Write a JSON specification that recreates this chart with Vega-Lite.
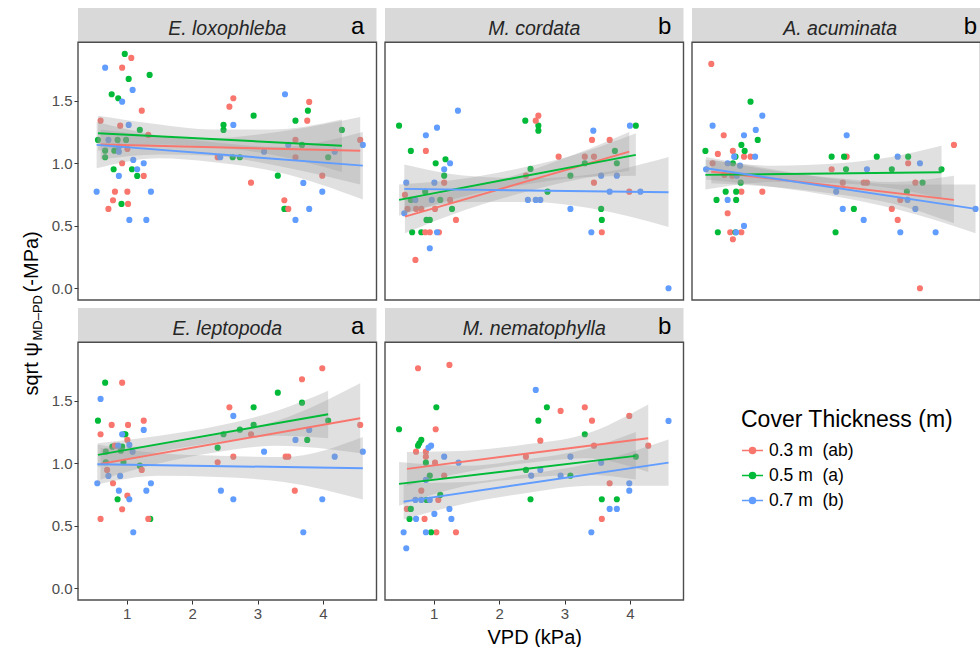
{
  "$schema": "https://vega.github.io/schema/vega-lite/v6.json",
  "padding": {"left": 20, "top": 8, "right": 0, "bottom": 0},
  "columns": 3,
  "spacing": {"row": 8, "column": 8},
  "bounds": "flush",
  "align": "all",
  "datasets": {
    "strips": [
      {"sp": "E. loxophleba", "tag": "a"},
      {"sp": "M. cordata", "tag": "b"},
      {"sp": "A. acuminata", "tag": "b"},
      {"sp": "E. leptopoda", "tag": "a"},
      {"sp": "M. nematophylla", "tag": "b"}
    ],
    "pts": [
      {"sp":"E. loxophleba","cov":"0.5","vpd":0.97,"psi":1.875},{"sp":"E. loxophleba","cov":"0.5","vpd":1.03,"psi":1.675},{"sp":"E. loxophleba","cov":"0.5","vpd":1.35,"psi":1.707},{"sp":"E. loxophleba","cov":"0.5","vpd":0.77,"psi":1.552},{"sp":"E. loxophleba","cov":"0.5","vpd":0.87,"psi":1.52},{"sp":"E. loxophleba","cov":"0.5","vpd":1.2,"psi":1.267},{"sp":"E. loxophleba","cov":"0.5","vpd":0.56,"psi":1.187},{"sp":"E. loxophleba","cov":"0.5","vpd":0.67,"psi":1.101},{"sp":"E. loxophleba","cov":"0.5","vpd":0.67,"psi":1.048},{"sp":"E. loxophleba","cov":"0.5","vpd":0.81,"psi":1.101},{"sp":"E. loxophleba","cov":"0.5","vpd":0.8,"psi":0.952},{"sp":"E. loxophleba","cov":"0.5","vpd":0.92,"psi":0.675},{"sp":"E. loxophleba","cov":"0.5","vpd":1.08,"psi":0.952},{"sp":"E. loxophleba","cov":"0.5","vpd":1.16,"psi":0.899},{"sp":"E. loxophleba","cov":"0.5","vpd":0.86,"psi":1.187},{"sp":"E. loxophleba","cov":"0.5","vpd":0.99,"psi":1.187},{"sp":"E. loxophleba","cov":"0.5","vpd":2.48,"psi":1.307},{"sp":"E. loxophleba","cov":"0.5","vpd":2.48,"psi":1.267},{"sp":"E. loxophleba","cov":"0.5","vpd":2.62,"psi":1.048},{"sp":"E. loxophleba","cov":"0.5","vpd":2.73,"psi":1.048},{"sp":"E. loxophleba","cov":"0.5","vpd":2.94,"psi":1.381},{"sp":"E. loxophleba","cov":"0.5","vpd":3.58,"psi":1.341},{"sp":"E. loxophleba","cov":"0.5","vpd":3.77,"psi":1.421},{"sp":"E. loxophleba","cov":"0.5","vpd":3.68,"psi":1.147},{"sp":"E. loxophleba","cov":"0.5","vpd":3.31,"psi":0.901},{"sp":"E. loxophleba","cov":"0.5","vpd":3.41,"psi":0.635},{"sp":"E. loxophleba","cov":"0.5","vpd":3.43,"psi":0.635},{"sp":"E. loxophleba","cov":"0.5","vpd":4.08,"psi":1.048},{"sp":"E. loxophleba","cov":"0.5","vpd":4.29,"psi":1.267},
      {"sp":"E. loxophleba","cov":"0.3","vpd":1.07,"psi":1.843},{"sp":"E. loxophleba","cov":"0.3","vpd":0.93,"psi":1.765},{"sp":"E. loxophleba","cov":"0.3","vpd":1.23,"psi":1.421},{"sp":"E. loxophleba","cov":"0.3","vpd":0.6,"psi":1.341},{"sp":"E. loxophleba","cov":"0.3","vpd":0.9,"psi":1.301},{"sp":"E. loxophleba","cov":"0.3","vpd":1.33,"psi":1.227},{"sp":"E. loxophleba","cov":"0.3","vpd":0.93,"psi":1.0},{"sp":"E. loxophleba","cov":"0.3","vpd":1.26,"psi":0.899},{"sp":"E. loxophleba","cov":"0.3","vpd":0.82,"psi":0.773},{"sp":"E. loxophleba","cov":"0.3","vpd":1.01,"psi":0.773},{"sp":"E. loxophleba","cov":"0.3","vpd":0.79,"psi":0.704},{"sp":"E. loxophleba","cov":"0.3","vpd":0.72,"psi":0.635},{"sp":"E. loxophleba","cov":"0.3","vpd":1.02,"psi":0.675},{"sp":"E. loxophleba","cov":"0.3","vpd":2.63,"psi":1.52},{"sp":"E. loxophleba","cov":"0.3","vpd":2.57,"psi":1.453},{"sp":"E. loxophleba","cov":"0.3","vpd":2.39,"psi":1.048},{"sp":"E. loxophleba","cov":"0.3","vpd":2.9,"psi":0.845},{"sp":"E. loxophleba","cov":"0.3","vpd":3.79,"psi":1.491},{"sp":"E. loxophleba","cov":"0.3","vpd":3.76,"psi":1.341},{"sp":"E. loxophleba","cov":"0.3","vpd":3.58,"psi":1.187},{"sp":"E. loxophleba","cov":"0.3","vpd":3.58,"psi":1.048},{"sp":"E. loxophleba","cov":"0.3","vpd":3.99,"psi":0.901},{"sp":"E. loxophleba","cov":"0.3","vpd":3.41,"psi":0.704},{"sp":"E. loxophleba","cov":"0.3","vpd":3.47,"psi":0.635},{"sp":"E. loxophleba","cov":"0.3","vpd":4.57,"psi":1.187},{"sp":"E. loxophleba","cov":"0.3","vpd":1.01,"psi":1.115},
      {"sp":"E. loxophleba","cov":"0.7","vpd":0.67,"psi":1.765},{"sp":"E. loxophleba","cov":"0.7","vpd":1.09,"psi":1.587},{"sp":"E. loxophleba","cov":"0.7","vpd":0.93,"psi":1.493},{"sp":"E. loxophleba","cov":"0.7","vpd":1.03,"psi":1.307},{"sp":"E. loxophleba","cov":"0.7","vpd":0.72,"psi":1.187},{"sp":"E. loxophleba","cov":"0.7","vpd":0.88,"psi":1.133},{"sp":"E. loxophleba","cov":"0.7","vpd":0.88,"psi":1.093},{"sp":"E. loxophleba","cov":"0.7","vpd":1.1,"psi":1.027},{"sp":"E. loxophleba","cov":"0.7","vpd":1.26,"psi":1.0},{"sp":"E. loxophleba","cov":"0.7","vpd":1.16,"psi":0.952},{"sp":"E. loxophleba","cov":"0.7","vpd":0.88,"psi":0.899},{"sp":"E. loxophleba","cov":"0.7","vpd":0.54,"psi":0.773},{"sp":"E. loxophleba","cov":"0.7","vpd":1.37,"psi":0.773},{"sp":"E. loxophleba","cov":"0.7","vpd":1.04,"psi":0.547},{"sp":"E. loxophleba","cov":"0.7","vpd":1.3,"psi":0.547},{"sp":"E. loxophleba","cov":"0.7","vpd":2.63,"psi":1.307},{"sp":"E. loxophleba","cov":"0.7","vpd":2.43,"psi":1.048},{"sp":"E. loxophleba","cov":"0.7","vpd":3.1,"psi":1.093},{"sp":"E. loxophleba","cov":"0.7","vpd":3.42,"psi":1.552},{"sp":"E. loxophleba","cov":"0.7","vpd":3.47,"psi":1.147},{"sp":"E. loxophleba","cov":"0.7","vpd":3.7,"psi":0.843},{"sp":"E. loxophleba","cov":"0.7","vpd":3.99,"psi":0.773},{"sp":"E. loxophleba","cov":"0.7","vpd":3.79,"psi":0.635},{"sp":"E. loxophleba","cov":"0.7","vpd":3.58,"psi":0.547},{"sp":"E. loxophleba","cov":"0.7","vpd":4.18,"psi":1.093},{"sp":"E. loxophleba","cov":"0.7","vpd":4.61,"psi":1.147},

      {"sp":"M. cordata","cov":"0.5","vpd":0.47,"psi":1.301},{"sp":"M. cordata","cov":"0.5","vpd":0.65,"psi":1.099},{"sp":"M. cordata","cov":"0.5","vpd":1.03,"psi":1.0},{"sp":"M. cordata","cov":"0.5","vpd":1.18,"psi":1.032},{"sp":"M. cordata","cov":"0.5","vpd":1.16,"psi":0.901},{"sp":"M. cordata","cov":"0.5","vpd":0.87,"psi":0.773},{"sp":"M. cordata","cov":"0.5","vpd":1.1,"psi":0.707},{"sp":"M. cordata","cov":"0.5","vpd":1.28,"psi":0.635},{"sp":"M. cordata","cov":"0.5","vpd":0.89,"psi":0.547},{"sp":"M. cordata","cov":"0.5","vpd":0.94,"psi":0.547},{"sp":"M. cordata","cov":"0.5","vpd":0.67,"psi":0.448},{"sp":"M. cordata","cov":"0.5","vpd":0.81,"psi":0.448},{"sp":"M. cordata","cov":"0.5","vpd":2.4,"psi":1.341},{"sp":"M. cordata","cov":"0.5","vpd":2.6,"psi":1.301},{"sp":"M. cordata","cov":"0.5","vpd":2.6,"psi":1.261},{"sp":"M. cordata","cov":"0.5","vpd":2.48,"psi":0.955},{"sp":"M. cordata","cov":"0.5","vpd":2.74,"psi":0.773},{"sp":"M. cordata","cov":"0.5","vpd":3.09,"psi":0.901},{"sp":"M. cordata","cov":"0.5","vpd":3.31,"psi":1.0},{"sp":"M. cordata","cov":"0.5","vpd":3.77,"psi":1.099},{"sp":"M. cordata","cov":"0.5","vpd":3.8,"psi":1.0},{"sp":"M. cordata","cov":"0.5","vpd":3.56,"psi":0.635},{"sp":"M. cordata","cov":"0.5","vpd":3.57,"psi":0.547},{"sp":"M. cordata","cov":"0.5","vpd":4.09,"psi":1.301},{"sp":"M. cordata","cov":"0.5","vpd":0.65,"psi":0.707},
      {"sp":"M. cordata","cov":"0.3","vpd":0.88,"psi":1.099},{"sp":"M. cordata","cov":"0.3","vpd":2.6,"psi":1.381},{"sp":"M. cordata","cov":"0.3","vpd":2.56,"psi":1.341},{"sp":"M. cordata","cov":"0.3","vpd":0.56,"psi":0.747},{"sp":"M. cordata","cov":"0.3","vpd":0.6,"psi":0.635},{"sp":"M. cordata","cov":"0.3","vpd":0.73,"psi":0.635},{"sp":"M. cordata","cov":"0.3","vpd":0.81,"psi":0.635},{"sp":"M. cordata","cov":"0.3","vpd":1.02,"psi":0.635},{"sp":"M. cordata","cov":"0.3","vpd":1.16,"psi":0.845},{"sp":"M. cordata","cov":"0.3","vpd":1.25,"psi":0.707},{"sp":"M. cordata","cov":"0.3","vpd":1.34,"psi":0.547},{"sp":"M. cordata","cov":"0.3","vpd":0.72,"psi":0.227},{"sp":"M. cordata","cov":"0.3","vpd":0.87,"psi":0.448},{"sp":"M. cordata","cov":"0.3","vpd":0.94,"psi":0.448},{"sp":"M. cordata","cov":"0.3","vpd":1.08,"psi":0.448},{"sp":"M. cordata","cov":"0.3","vpd":2.91,"psi":1.053},{"sp":"M. cordata","cov":"0.3","vpd":3.42,"psi":1.187},{"sp":"M. cordata","cov":"0.3","vpd":3.31,"psi":1.053},{"sp":"M. cordata","cov":"0.3","vpd":3.45,"psi":1.053},{"sp":"M. cordata","cov":"0.3","vpd":3.69,"psi":1.187},{"sp":"M. cordata","cov":"0.3","vpd":3.45,"psi":0.845},{"sp":"M. cordata","cov":"0.3","vpd":3.99,"psi":0.773},{"sp":"M. cordata","cov":"0.3","vpd":3.57,"psi":0.448},{"sp":"M. cordata","cov":"0.3","vpd":2.41,"psi":0.901},
      {"sp":"M. cordata","cov":"0.7","vpd":1.37,"psi":1.421},{"sp":"M. cordata","cov":"0.7","vpd":1.05,"psi":1.285},{"sp":"M. cordata","cov":"0.7","vpd":0.88,"psi":1.224},{"sp":"M. cordata","cov":"0.7","vpd":1.25,"psi":1.0},{"sp":"M. cordata","cov":"0.7","vpd":1.16,"psi":0.952},{"sp":"M. cordata","cov":"0.7","vpd":0.58,"psi":0.845},{"sp":"M. cordata","cov":"0.7","vpd":1.01,"psi":0.845},{"sp":"M. cordata","cov":"0.7","vpd":0.55,"psi":0.6},{"sp":"M. cordata","cov":"0.7","vpd":0.72,"psi":0.707},{"sp":"M. cordata","cov":"0.7","vpd":0.97,"psi":0.707},{"sp":"M. cordata","cov":"0.7","vpd":1.05,"psi":0.448},{"sp":"M. cordata","cov":"0.7","vpd":0.94,"psi":0.32},{"sp":"M. cordata","cov":"0.7","vpd":2.44,"psi":0.707},{"sp":"M. cordata","cov":"0.7","vpd":2.56,"psi":0.707},{"sp":"M. cordata","cov":"0.7","vpd":2.63,"psi":0.707},{"sp":"M. cordata","cov":"0.7","vpd":3.09,"psi":0.635},{"sp":"M. cordata","cov":"0.7","vpd":3.44,"psi":1.261},{"sp":"M. cordata","cov":"0.7","vpd":4.0,"psi":1.301},{"sp":"M. cordata","cov":"0.7","vpd":3.56,"psi":0.901},{"sp":"M. cordata","cov":"0.7","vpd":3.8,"psi":0.901},{"sp":"M. cordata","cov":"0.7","vpd":3.69,"psi":0.773},{"sp":"M. cordata","cov":"0.7","vpd":4.16,"psi":0.773},{"sp":"M. cordata","cov":"0.7","vpd":3.41,"psi":0.448},{"sp":"M. cordata","cov":"0.7","vpd":4.59,"psi":0.0},

      {"sp":"A. acuminata","cov":"0.3","vpd":0.55,"psi":1.795},{"sp":"A. acuminata","cov":"0.3","vpd":0.74,"psi":1.224},{"sp":"A. acuminata","cov":"0.3","vpd":0.88,"psi":1.099},{"sp":"A. acuminata","cov":"0.3","vpd":0.65,"psi":1.075},{"sp":"A. acuminata","cov":"0.3","vpd":0.57,"psi":1.0},{"sp":"A. acuminata","cov":"0.3","vpd":0.75,"psi":0.907},{"sp":"A. acuminata","cov":"0.3","vpd":0.87,"psi":0.901},{"sp":"A. acuminata","cov":"0.3","vpd":1.05,"psi":1.053},{"sp":"A. acuminata","cov":"0.3","vpd":1.15,"psi":1.053},{"sp":"A. acuminata","cov":"0.3","vpd":0.8,"psi":0.6},{"sp":"A. acuminata","cov":"0.3","vpd":0.84,"psi":0.448},{"sp":"A. acuminata","cov":"0.3","vpd":1.01,"psi":0.448},{"sp":"A. acuminata","cov":"0.3","vpd":0.88,"psi":0.392},{"sp":"A. acuminata","cov":"0.3","vpd":1.01,"psi":0.773},{"sp":"A. acuminata","cov":"0.3","vpd":1.33,"psi":0.773},{"sp":"A. acuminata","cov":"0.3","vpd":2.62,"psi":1.053},{"sp":"A. acuminata","cov":"0.3","vpd":2.39,"psi":0.952},{"sp":"A. acuminata","cov":"0.3","vpd":2.56,"psi":0.845},{"sp":"A. acuminata","cov":"0.3","vpd":2.88,"psi":0.845},{"sp":"A. acuminata","cov":"0.3","vpd":2.93,"psi":0.845},{"sp":"A. acuminata","cov":"0.3","vpd":3.31,"psi":0.635},{"sp":"A. acuminata","cov":"0.3","vpd":3.4,"psi":0.547},{"sp":"A. acuminata","cov":"0.3","vpd":3.44,"psi":0.707},{"sp":"A. acuminata","cov":"0.3","vpd":3.56,"psi":1.0},{"sp":"A. acuminata","cov":"0.3","vpd":3.67,"psi":0.845},{"sp":"A. acuminata","cov":"0.3","vpd":4.26,"psi":1.147},{"sp":"A. acuminata","cov":"0.3","vpd":3.74,"psi":0.0},
      {"sp":"A. acuminata","cov":"0.5","vpd":0.46,"psi":1.099},{"sp":"A. acuminata","cov":"0.5","vpd":1.15,"psi":1.493},{"sp":"A. acuminata","cov":"0.5","vpd":1.01,"psi":1.147},{"sp":"A. acuminata","cov":"0.5","vpd":1.06,"psi":1.099},{"sp":"A. acuminata","cov":"0.5","vpd":1.26,"psi":1.187},{"sp":"A. acuminata","cov":"0.5","vpd":0.92,"psi":1.053},{"sp":"A. acuminata","cov":"0.5","vpd":0.88,"psi":1.0},{"sp":"A. acuminata","cov":"0.5","vpd":1.0,"psi":0.845},{"sp":"A. acuminata","cov":"0.5","vpd":0.77,"psi":0.773},{"sp":"A. acuminata","cov":"0.5","vpd":0.93,"psi":0.773},{"sp":"A. acuminata","cov":"0.5","vpd":0.63,"psi":0.707},{"sp":"A. acuminata","cov":"0.5","vpd":0.93,"psi":0.707},{"sp":"A. acuminata","cov":"0.5","vpd":0.65,"psi":0.448},{"sp":"A. acuminata","cov":"0.5","vpd":0.92,"psi":0.448},{"sp":"A. acuminata","cov":"0.5","vpd":2.39,"psi":1.053},{"sp":"A. acuminata","cov":"0.5","vpd":2.58,"psi":1.053},{"sp":"A. acuminata","cov":"0.5","vpd":2.61,"psi":0.952},{"sp":"A. acuminata","cov":"0.5","vpd":3.08,"psi":1.053},{"sp":"A. acuminata","cov":"0.5","vpd":3.31,"psi":0.952},{"sp":"A. acuminata","cov":"0.5","vpd":3.56,"psi":1.053},{"sp":"A. acuminata","cov":"0.5","vpd":3.54,"psi":0.773},{"sp":"A. acuminata","cov":"0.5","vpd":3.78,"psi":0.845},{"sp":"A. acuminata","cov":"0.5","vpd":2.73,"psi":0.635},{"sp":"A. acuminata","cov":"0.5","vpd":2.45,"psi":0.448},{"sp":"A. acuminata","cov":"0.5","vpd":4.07,"psi":0.952},
      {"sp":"A. acuminata","cov":"0.7","vpd":0.57,"psi":1.301},{"sp":"A. acuminata","cov":"0.7","vpd":1.33,"psi":1.381},{"sp":"A. acuminata","cov":"0.7","vpd":1.23,"psi":1.267},{"sp":"A. acuminata","cov":"0.7","vpd":1.05,"psi":1.224},{"sp":"A. acuminata","cov":"0.7","vpd":1.22,"psi":1.053},{"sp":"A. acuminata","cov":"0.7","vpd":0.9,"psi":1.053},{"sp":"A. acuminata","cov":"0.7","vpd":0.8,"psi":1.0},{"sp":"A. acuminata","cov":"0.7","vpd":0.99,"psi":0.981},{"sp":"A. acuminata","cov":"0.7","vpd":0.47,"psi":0.952},{"sp":"A. acuminata","cov":"0.7","vpd":0.94,"psi":0.901},{"sp":"A. acuminata","cov":"0.7","vpd":0.8,"psi":0.707},{"sp":"A. acuminata","cov":"0.7","vpd":1.05,"psi":0.499},{"sp":"A. acuminata","cov":"0.7","vpd":0.93,"psi":0.448},{"sp":"A. acuminata","cov":"0.7","vpd":2.62,"psi":1.224},{"sp":"A. acuminata","cov":"0.7","vpd":2.93,"psi":0.952},{"sp":"A. acuminata","cov":"0.7","vpd":2.46,"psi":0.773},{"sp":"A. acuminata","cov":"0.7","vpd":2.56,"psi":0.635},{"sp":"A. acuminata","cov":"0.7","vpd":2.88,"psi":0.547},{"sp":"A. acuminata","cov":"0.7","vpd":3.4,"psi":1.053},{"sp":"A. acuminata","cov":"0.7","vpd":3.74,"psi":1.0},{"sp":"A. acuminata","cov":"0.7","vpd":3.55,"psi":0.707},{"sp":"A. acuminata","cov":"0.7","vpd":3.67,"psi":0.635},{"sp":"A. acuminata","cov":"0.7","vpd":3.44,"psi":0.448},{"sp":"A. acuminata","cov":"0.7","vpd":3.98,"psi":0.448},{"sp":"A. acuminata","cov":"0.7","vpd":4.59,"psi":0.635},

      {"sp":"E. leptopoda","cov":"0.5","vpd":0.67,"psi":1.645},{"sp":"E. leptopoda","cov":"0.5","vpd":0.56,"psi":1.341},{"sp":"E. leptopoda","cov":"0.5","vpd":0.96,"psi":1.232},{"sp":"E. leptopoda","cov":"0.5","vpd":0.98,"psi":1.232},{"sp":"E. leptopoda","cov":"0.5","vpd":0.78,"psi":1.133},{"sp":"E. leptopoda","cov":"0.5","vpd":0.68,"psi":1.093},{"sp":"E. leptopoda","cov":"0.5","vpd":0.91,"psi":1.101},{"sp":"E. leptopoda","cov":"0.5","vpd":0.95,"psi":1.008},{"sp":"E. leptopoda","cov":"0.5","vpd":0.68,"psi":1.008},{"sp":"E. leptopoda","cov":"0.5","vpd":1.2,"psi":0.981},{"sp":"E. leptopoda","cov":"0.5","vpd":0.86,"psi":0.712},{"sp":"E. leptopoda","cov":"0.5","vpd":1.36,"psi":0.555},{"sp":"E. leptopoda","cov":"0.5","vpd":2.39,"psi":1.125},{"sp":"E. leptopoda","cov":"0.5","vpd":2.48,"psi":1.232},{"sp":"E. leptopoda","cov":"0.5","vpd":2.73,"psi":1.269},{"sp":"E. leptopoda","cov":"0.5","vpd":2.94,"psi":1.448},{"sp":"E. leptopoda","cov":"0.5","vpd":2.94,"psi":1.307},{"sp":"E. leptopoda","cov":"0.5","vpd":3.31,"psi":1.565},{"sp":"E. leptopoda","cov":"0.5","vpd":3.68,"psi":1.485},{"sp":"E. leptopoda","cov":"0.5","vpd":3.76,"psi":1.187},{"sp":"E. leptopoda","cov":"0.5","vpd":4.08,"psi":1.341},{"sp":"E. leptopoda","cov":"0.5","vpd":0.93,"psi":1.133},
      {"sp":"E. leptopoda","cov":"0.3","vpd":0.93,"psi":1.645},{"sp":"E. leptopoda","cov":"0.3","vpd":0.6,"psi":1.232},{"sp":"E. leptopoda","cov":"0.3","vpd":0.77,"psi":1.307},{"sp":"E. leptopoda","cov":"0.3","vpd":1.02,"psi":1.307},{"sp":"E. leptopoda","cov":"0.3","vpd":1.26,"psi":1.341},{"sp":"E. leptopoda","cov":"0.3","vpd":1.01,"psi":1.187},{"sp":"E. leptopoda","cov":"0.3","vpd":0.82,"psi":1.141},{"sp":"E. leptopoda","cov":"0.3","vpd":0.7,"psi":0.947},{"sp":"E. leptopoda","cov":"0.3","vpd":0.79,"psi":0.84},{"sp":"E. leptopoda","cov":"0.3","vpd":1.01,"psi":0.741},{"sp":"E. leptopoda","cov":"0.3","vpd":0.93,"psi":0.632},{"sp":"E. leptopoda","cov":"0.3","vpd":0.6,"psi":0.555},{"sp":"E. leptopoda","cov":"0.3","vpd":1.33,"psi":0.555},{"sp":"E. leptopoda","cov":"0.3","vpd":1.23,"psi":0.947},{"sp":"E. leptopoda","cov":"0.3","vpd":2.57,"psi":1.448},{"sp":"E. leptopoda","cov":"0.3","vpd":2.39,"psi":1.008},{"sp":"E. leptopoda","cov":"0.3","vpd":2.63,"psi":1.053},{"sp":"E. leptopoda","cov":"0.3","vpd":2.9,"psi":1.232},{"sp":"E. leptopoda","cov":"0.3","vpd":3.43,"psi":1.053},{"sp":"E. leptopoda","cov":"0.3","vpd":3.47,"psi":1.053},{"sp":"E. leptopoda","cov":"0.3","vpd":3.68,"psi":1.672},{"sp":"E. leptopoda","cov":"0.3","vpd":3.99,"psi":1.76},{"sp":"E. leptopoda","cov":"0.3","vpd":3.57,"psi":0.781},{"sp":"E. leptopoda","cov":"0.3","vpd":4.57,"psi":1.307},
      {"sp":"E. leptopoda","cov":"0.7","vpd":0.6,"psi":1.515},{"sp":"E. leptopoda","cov":"0.7","vpd":0.55,"psi":0.84},{"sp":"E. leptopoda","cov":"0.7","vpd":1.26,"psi":1.267},{"sp":"E. leptopoda","cov":"0.7","vpd":0.93,"psi":1.232},{"sp":"E. leptopoda","cov":"0.7","vpd":0.87,"psi":1.141},{"sp":"E. leptopoda","cov":"0.7","vpd":1.04,"psi":1.147},{"sp":"E. leptopoda","cov":"0.7","vpd":1.09,"psi":1.093},{"sp":"E. leptopoda","cov":"0.7","vpd":0.72,"psi":0.899},{"sp":"E. leptopoda","cov":"0.7","vpd":0.9,"psi":0.899},{"sp":"E. leptopoda","cov":"0.7","vpd":0.88,"psi":0.781},{"sp":"E. leptopoda","cov":"0.7","vpd":1.04,"psi":0.712},{"sp":"E. leptopoda","cov":"0.7","vpd":1.3,"psi":0.781},{"sp":"E. leptopoda","cov":"0.7","vpd":1.37,"psi":0.84},{"sp":"E. leptopoda","cov":"0.7","vpd":1.1,"psi":0.448},{"sp":"E. leptopoda","cov":"0.7","vpd":2.63,"psi":1.379},{"sp":"E. leptopoda","cov":"0.7","vpd":2.44,"psi":0.781},{"sp":"E. leptopoda","cov":"0.7","vpd":2.63,"psi":0.712},{"sp":"E. leptopoda","cov":"0.7","vpd":3.1,"psi":1.093},{"sp":"E. leptopoda","cov":"0.7","vpd":3.58,"psi":1.187},{"sp":"E. leptopoda","cov":"0.7","vpd":3.79,"psi":1.267},{"sp":"E. leptopoda","cov":"0.7","vpd":3.7,"psi":0.448},{"sp":"E. leptopoda","cov":"0.7","vpd":3.99,"psi":0.712},{"sp":"E. leptopoda","cov":"0.7","vpd":4.18,"psi":1.053},{"sp":"E. leptopoda","cov":"0.7","vpd":4.61,"psi":1.093},

      {"sp":"M. nematophylla","cov":"0.3","vpd":0.76,"psi":1.76},{"sp":"M. nematophylla","cov":"0.3","vpd":1.24,"psi":1.787},{"sp":"M. nematophylla","cov":"0.3","vpd":1.03,"psi":1.272},{"sp":"M. nematophylla","cov":"0.3","vpd":0.73,"psi":1.093},{"sp":"M. nematophylla","cov":"0.3","vpd":0.88,"psi":1.093},{"sp":"M. nematophylla","cov":"0.3","vpd":0.88,"psi":1.053},{"sp":"M. nematophylla","cov":"0.3","vpd":1.02,"psi":1.005},{"sp":"M. nematophylla","cov":"0.3","vpd":1.16,"psi":0.901},{"sp":"M. nematophylla","cov":"0.3","vpd":0.81,"psi":0.781},{"sp":"M. nematophylla","cov":"0.3","vpd":1.07,"psi":0.707},{"sp":"M. nematophylla","cov":"0.3","vpd":0.59,"psi":0.635},{"sp":"M. nematophylla","cov":"0.3","vpd":0.86,"psi":0.555},{"sp":"M. nematophylla","cov":"0.3","vpd":1.04,"psi":0.448},{"sp":"M. nematophylla","cov":"0.3","vpd":1.34,"psi":0.448},{"sp":"M. nematophylla","cov":"0.3","vpd":2.63,"psi":1.181},{"sp":"M. nematophylla","cov":"0.3","vpd":2.41,"psi":1.053},{"sp":"M. nematophylla","cov":"0.3","vpd":2.94,"psi":1.419},{"sp":"M. nematophylla","cov":"0.3","vpd":3.31,"psi":1.448},{"sp":"M. nematophylla","cov":"0.3","vpd":3.42,"psi":1.341},{"sp":"M. nematophylla","cov":"0.3","vpd":3.45,"psi":1.141},{"sp":"M. nematophylla","cov":"0.3","vpd":3.99,"psi":1.379},{"sp":"M. nematophylla","cov":"0.3","vpd":3.69,"psi":0.84},{"sp":"M. nematophylla","cov":"0.3","vpd":3.57,"psi":0.555},{"sp":"M. nematophylla","cov":"0.3","vpd":4.28,"psi":1.141},
      {"sp":"M. nematophylla","cov":"0.5","vpd":0.47,"psi":1.272},{"sp":"M. nematophylla","cov":"0.5","vpd":1.04,"psi":1.448},{"sp":"M. nematophylla","cov":"0.5","vpd":0.76,"psi":1.141},{"sp":"M. nematophylla","cov":"0.5","vpd":0.78,"psi":1.16},{"sp":"M. nematophylla","cov":"0.5","vpd":0.81,"psi":1.187},{"sp":"M. nematophylla","cov":"0.5","vpd":0.88,"psi":1.005},{"sp":"M. nematophylla","cov":"0.5","vpd":0.94,"psi":0.901},{"sp":"M. nematophylla","cov":"0.5","vpd":1.1,"psi":0.747},{"sp":"M. nematophylla","cov":"0.5","vpd":0.65,"psi":0.635},{"sp":"M. nematophylla","cov":"0.5","vpd":0.63,"psi":0.555},{"sp":"M. nematophylla","cov":"0.5","vpd":0.96,"psi":0.448},{"sp":"M. nematophylla","cov":"0.5","vpd":2.6,"psi":1.341},{"sp":"M. nematophylla","cov":"0.5","vpd":2.73,"psi":1.448},{"sp":"M. nematophylla","cov":"0.5","vpd":2.41,"psi":0.947},{"sp":"M. nematophylla","cov":"0.5","vpd":2.48,"psi":0.712},{"sp":"M. nematophylla","cov":"0.5","vpd":3.09,"psi":0.901},{"sp":"M. nematophylla","cov":"0.5","vpd":3.31,"psi":1.232},{"sp":"M. nematophylla","cov":"0.5","vpd":3.57,"psi":0.712},{"sp":"M. nematophylla","cov":"0.5","vpd":3.8,"psi":0.712},{"sp":"M. nematophylla","cov":"0.5","vpd":4.09,"psi":1.053},{"sp":"M. nematophylla","cov":"0.5","vpd":0.89,"psi":0.707},
      {"sp":"M. nematophylla","cov":"0.7","vpd":2.56,"psi":1.587},{"sp":"M. nematophylla","cov":"0.7","vpd":4.59,"psi":1.339},{"sp":"M. nematophylla","cov":"0.7","vpd":0.92,"psi":1.125},{"sp":"M. nematophylla","cov":"0.7","vpd":0.96,"psi":1.141},{"sp":"M. nematophylla","cov":"0.7","vpd":1.16,"psi":1.053},{"sp":"M. nematophylla","cov":"0.7","vpd":1.38,"psi":1.005},{"sp":"M. nematophylla","cov":"0.7","vpd":0.88,"psi":0.867},{"sp":"M. nematophylla","cov":"0.7","vpd":0.72,"psi":0.707},{"sp":"M. nematophylla","cov":"0.7","vpd":0.81,"psi":0.707},{"sp":"M. nematophylla","cov":"0.7","vpd":0.94,"psi":0.707},{"sp":"M. nematophylla","cov":"0.7","vpd":0.73,"psi":0.555},{"sp":"M. nematophylla","cov":"0.7","vpd":1.01,"psi":0.595},{"sp":"M. nematophylla","cov":"0.7","vpd":1.24,"psi":0.635},{"sp":"M. nematophylla","cov":"0.7","vpd":1.27,"psi":0.555},{"sp":"M. nematophylla","cov":"0.7","vpd":0.54,"psi":0.448},{"sp":"M. nematophylla","cov":"0.7","vpd":0.58,"psi":0.32},{"sp":"M. nematophylla","cov":"0.7","vpd":0.88,"psi":0.448},{"sp":"M. nematophylla","cov":"0.7","vpd":2.49,"psi":0.901},{"sp":"M. nematophylla","cov":"0.7","vpd":2.63,"psi":0.947},{"sp":"M. nematophylla","cov":"0.7","vpd":2.94,"psi":0.901},{"sp":"M. nematophylla","cov":"0.7","vpd":3.09,"psi":1.053},{"sp":"M. nematophylla","cov":"0.7","vpd":3.56,"psi":1.005},{"sp":"M. nematophylla","cov":"0.7","vpd":3.69,"psi":0.635},{"sp":"M. nematophylla","cov":"0.7","vpd":3.8,"psi":0.635},{"sp":"M. nematophylla","cov":"0.7","vpd":3.99,"psi":0.84},{"sp":"M. nematophylla","cov":"0.7","vpd":3.99,"psi":0.781},{"sp":"M. nematophylla","cov":"0.7","vpd":3.41,"psi":0.448}
    ],
    "fits": [
      {"sp":"E. loxophleba","cov":"0.3","vpd":0.6,"psi":1.15},{"sp":"E. loxophleba","cov":"0.3","vpd":4.57,"psi":1.1},
      {"sp":"E. loxophleba","cov":"0.5","vpd":0.56,"psi":1.24},{"sp":"E. loxophleba","cov":"0.5","vpd":4.29,"psi":1.14},
      {"sp":"E. loxophleba","cov":"0.7","vpd":0.54,"psi":1.147},{"sp":"E. loxophleba","cov":"0.7","vpd":4.61,"psi":0.981},
      {"sp":"M. cordata","cov":"0.3","vpd":0.56,"psi":0.573},{"sp":"M. cordata","cov":"0.3","vpd":3.99,"psi":1.093},
      {"sp":"M. cordata","cov":"0.5","vpd":0.47,"psi":0.707},{"sp":"M. cordata","cov":"0.5","vpd":4.09,"psi":1.067},
      {"sp":"M. cordata","cov":"0.7","vpd":0.55,"psi":0.795},{"sp":"M. cordata","cov":"0.7","vpd":4.59,"psi":0.768},
      {"sp":"A. acuminata","cov":"0.3","vpd":0.55,"psi":0.933},{"sp":"A. acuminata","cov":"0.3","vpd":4.26,"psi":0.707},
      {"sp":"A. acuminata","cov":"0.5","vpd":0.46,"psi":0.907},{"sp":"A. acuminata","cov":"0.5","vpd":4.07,"psi":0.928},
      {"sp":"A. acuminata","cov":"0.7","vpd":0.47,"psi":0.96},{"sp":"A. acuminata","cov":"0.7","vpd":4.59,"psi":0.635},
      {"sp":"E. leptopoda","cov":"0.3","vpd":0.6,"psi":0.995},{"sp":"E. leptopoda","cov":"0.3","vpd":4.57,"psi":1.36},
      {"sp":"E. leptopoda","cov":"0.5","vpd":0.56,"psi":1.067},{"sp":"E. leptopoda","cov":"0.5","vpd":4.08,"psi":1.392},
      {"sp":"E. leptopoda","cov":"0.7","vpd":0.55,"psi":0.992},{"sp":"E. leptopoda","cov":"0.7","vpd":4.61,"psi":0.96},
      {"sp":"M. nematophylla","cov":"0.3","vpd":0.59,"psi":0.955},{"sp":"M. nematophylla","cov":"0.3","vpd":4.28,"psi":1.2},
      {"sp":"M. nematophylla","cov":"0.5","vpd":0.47,"psi":0.835},{"sp":"M. nematophylla","cov":"0.5","vpd":4.09,"psi":1.059},
      {"sp":"M. nematophylla","cov":"0.7","vpd":0.54,"psi":0.693},{"sp":"M. nematophylla","cov":"0.7","vpd":4.59,"psi":1.005}
    ],
    "bands": [
      {"sp":"E. loxophleba","cov":"0.3","vpd":0.6,"lo":1.03,"hi":1.27},{"sp":"E. loxophleba","cov":"0.3","vpd":1.5,"lo":1.07,"hi":1.22},{"sp":"E. loxophleba","cov":"0.3","vpd":2.3,"lo":1.06,"hi":1.2},{"sp":"E. loxophleba","cov":"0.3","vpd":3.3,"lo":0.98,"hi":1.25},{"sp":"E. loxophleba","cov":"0.3","vpd":4.57,"lo":0.83,"hi":1.37},
      {"sp":"E. loxophleba","cov":"0.5","vpd":0.56,"lo":1.1,"hi":1.38},{"sp":"E. loxophleba","cov":"0.5","vpd":1.5,"lo":1.15,"hi":1.31},{"sp":"E. loxophleba","cov":"0.5","vpd":2.3,"lo":1.13,"hi":1.27},{"sp":"E. loxophleba","cov":"0.5","vpd":3.2,"lo":1.07,"hi":1.27},{"sp":"E. loxophleba","cov":"0.5","vpd":4.29,"lo":0.93,"hi":1.35},
      {"sp":"E. loxophleba","cov":"0.7","vpd":0.54,"lo":0.96,"hi":1.33},{"sp":"E. loxophleba","cov":"0.7","vpd":1.5,"lo":1.04,"hi":1.22},{"sp":"E. loxophleba","cov":"0.7","vpd":2.3,"lo":1.01,"hi":1.17},{"sp":"E. loxophleba","cov":"0.7","vpd":3.3,"lo":0.93,"hi":1.13},{"sp":"E. loxophleba","cov":"0.7","vpd":4.61,"lo":0.71,"hi":1.25},
      {"sp":"M. cordata","cov":"0.3","vpd":0.56,"lo":0.44,"hi":0.71},{"sp":"M. cordata","cov":"0.3","vpd":1.5,"lo":0.63,"hi":0.8},{"sp":"M. cordata","cov":"0.3","vpd":2.4,"lo":0.77,"hi":0.93},{"sp":"M. cordata","cov":"0.3","vpd":3.2,"lo":0.87,"hi":1.08},{"sp":"M. cordata","cov":"0.3","vpd":3.99,"lo":0.94,"hi":1.25},
      {"sp":"M. cordata","cov":"0.5","vpd":0.47,"lo":0.58,"hi":0.83},{"sp":"M. cordata","cov":"0.5","vpd":1.5,"lo":0.74,"hi":0.88},{"sp":"M. cordata","cov":"0.5","vpd":2.4,"lo":0.83,"hi":0.97},{"sp":"M. cordata","cov":"0.5","vpd":3.3,"lo":0.89,"hi":1.09},{"sp":"M. cordata","cov":"0.5","vpd":4.09,"lo":0.9,"hi":1.24},
      {"sp":"M. cordata","cov":"0.7","vpd":0.55,"lo":0.6,"hi":0.99},{"sp":"M. cordata","cov":"0.7","vpd":1.5,"lo":0.69,"hi":0.9},{"sp":"M. cordata","cov":"0.7","vpd":2.5,"lo":0.69,"hi":0.88},{"sp":"M. cordata","cov":"0.7","vpd":3.4,"lo":0.64,"hi":0.91},{"sp":"M. cordata","cov":"0.7","vpd":4.59,"lo":0.49,"hi":1.05},
      {"sp":"A. acuminata","cov":"0.3","vpd":0.55,"lo":0.84,"hi":1.03},{"sp":"A. acuminata","cov":"0.3","vpd":1.5,"lo":0.81,"hi":0.94},{"sp":"A. acuminata","cov":"0.3","vpd":2.5,"lo":0.75,"hi":0.88},{"sp":"A. acuminata","cov":"0.3","vpd":3.3,"lo":0.68,"hi":0.85},{"sp":"A. acuminata","cov":"0.3","vpd":4.26,"lo":0.52,"hi":0.9},
      {"sp":"A. acuminata","cov":"0.5","vpd":0.46,"lo":0.79,"hi":1.03},{"sp":"A. acuminata","cov":"0.5","vpd":1.5,"lo":0.85,"hi":0.98},{"sp":"A. acuminata","cov":"0.5","vpd":2.5,"lo":0.84,"hi":1.0},{"sp":"A. acuminata","cov":"0.5","vpd":3.3,"lo":0.8,"hi":1.05},{"sp":"A. acuminata","cov":"0.5","vpd":4.07,"lo":0.72,"hi":1.14},
      {"sp":"A. acuminata","cov":"0.7","vpd":0.47,"lo":0.87,"hi":1.05},{"sp":"A. acuminata","cov":"0.7","vpd":1.5,"lo":0.81,"hi":0.95},{"sp":"A. acuminata","cov":"0.7","vpd":2.5,"lo":0.73,"hi":0.87},{"sp":"A. acuminata","cov":"0.7","vpd":3.4,"lo":0.63,"hi":0.83},{"sp":"A. acuminata","cov":"0.7","vpd":4.59,"lo":0.44,"hi":0.83},
      {"sp":"E. leptopoda","cov":"0.3","vpd":0.6,"lo":0.87,"hi":1.12},{"sp":"E. leptopoda","cov":"0.3","vpd":1.5,"lo":1.0,"hi":1.15},{"sp":"E. leptopoda","cov":"0.3","vpd":2.4,"lo":1.09,"hi":1.23},{"sp":"E. leptopoda","cov":"0.3","vpd":3.3,"lo":1.14,"hi":1.34},{"sp":"E. leptopoda","cov":"0.3","vpd":4.57,"lo":1.08,"hi":1.64},
      {"sp":"E. leptopoda","cov":"0.5","vpd":0.56,"lo":0.97,"hi":1.16},{"sp":"E. leptopoda","cov":"0.5","vpd":1.5,"lo":1.09,"hi":1.22},{"sp":"E. leptopoda","cov":"0.5","vpd":2.4,"lo":1.17,"hi":1.3},{"sp":"E. leptopoda","cov":"0.5","vpd":3.3,"lo":1.22,"hi":1.42},{"sp":"E. leptopoda","cov":"0.5","vpd":4.08,"lo":1.2,"hi":1.58},
      {"sp":"E. leptopoda","cov":"0.7","vpd":0.55,"lo":0.83,"hi":1.15},{"sp":"E. leptopoda","cov":"0.7","vpd":1.5,"lo":0.9,"hi":1.08},{"sp":"E. leptopoda","cov":"0.7","vpd":2.4,"lo":0.89,"hi":1.06},{"sp":"E. leptopoda","cov":"0.7","vpd":3.4,"lo":0.85,"hi":1.05},{"sp":"E. leptopoda","cov":"0.7","vpd":4.61,"lo":0.71,"hi":1.21},
      {"sp":"M. nematophylla","cov":"0.3","vpd":0.59,"lo":0.82,"hi":1.09},{"sp":"M. nematophylla","cov":"0.3","vpd":1.5,"lo":0.93,"hi":1.1},{"sp":"M. nematophylla","cov":"0.3","vpd":2.4,"lo":1.0,"hi":1.15},{"sp":"M. nematophylla","cov":"0.3","vpd":3.3,"lo":1.04,"hi":1.23},{"sp":"M. nematophylla","cov":"0.3","vpd":4.28,"lo":0.93,"hi":1.47},
      {"sp":"M. nematophylla","cov":"0.5","vpd":0.47,"lo":0.66,"hi":1.01},{"sp":"M. nematophylla","cov":"0.5","vpd":1.5,"lo":0.82,"hi":0.98},{"sp":"M. nematophylla","cov":"0.5","vpd":2.4,"lo":0.88,"hi":1.03},{"sp":"M. nematophylla","cov":"0.5","vpd":3.3,"lo":0.91,"hi":1.11},{"sp":"M. nematophylla","cov":"0.5","vpd":4.09,"lo":0.87,"hi":1.25},
      {"sp":"M. nematophylla","cov":"0.7","vpd":0.54,"lo":0.55,"hi":0.84},{"sp":"M. nematophylla","cov":"0.7","vpd":1.5,"lo":0.68,"hi":0.85},{"sp":"M. nematophylla","cov":"0.7","vpd":2.4,"lo":0.76,"hi":0.91},{"sp":"M. nematophylla","cov":"0.7","vpd":3.4,"lo":0.82,"hi":1.0},{"sp":"M. nematophylla","cov":"0.7","vpd":4.59,"lo":0.82,"hi":1.19}
    ]
  },
  "concat": [
    {
      "width": 298.5, "height": 292,
      "layer": [
        {"data": {"name": "strips"}, "transform": [{"filter": "datum.sp === 'E. loxophleba'"}],
         "mark": {"type": "rect", "fill": "#d9d9d9"},
         "encoding": {"x": {"datum": 0.255, "type": "quantitative", "scale": {"domain": [0.255, 4.819], "nice": false, "zero": false}, "axis": null}, "x2": {"datum": 4.819},
                      "y": {"datum": 1.968, "type": "quantitative", "scale": {"domain": [-0.094, 2.242], "nice": false, "zero": false},
                            "axis": {"values": [0, 0.5, 1, 1.5], "format": ".1f", "title": "MD–PD", "titleFontSize": 13, "titleAngle": 270, "titleAlign": "left", "titleBaseline": "alphabetic", "titleX": -37, "titleY": 332}}, "y2": {"datum": 2.242}}},
        {"data": {"name": "strips"}, "transform": [{"filter": "datum.sp === 'E. loxophleba'"}],
         "mark": {"type": "text", "fontStyle": "italic", "fontSize": 19.5, "color": "#262626", "baseline": "alphabetic", "align": "center"},
         "encoding": {"x": {"datum": 2.537, "type": "quantitative", "scale": {"domain": [0.255, 4.819], "nice": false, "zero": false}, "axis": null},
                      "y": {"datum": 2.026, "type": "quantitative", "scale": {"domain": [-0.094, 2.242], "nice": false, "zero": false},
                            "axis": {"values": [0, 0.5, 1, 1.5], "format": ".1f", "title": "MD–PD", "titleFontSize": 13, "titleAngle": 270, "titleAlign": "left", "titleBaseline": "alphabetic", "titleX": -37, "titleY": 332}}, "text": {"field": "sp"}}},
        {"data": {"name": "strips"}, "transform": [{"filter": "datum.sp === 'E. loxophleba'"}],
         "mark": {"type": "text", "fontSize": 24, "color": "#000000", "baseline": "alphabetic", "align": "center"},
         "encoding": {"x": {"datum": 4.53, "type": "quantitative", "scale": {"domain": [0.255, 4.819], "nice": false, "zero": false}, "axis": null},
                      "y": {"datum": 2.038, "type": "quantitative", "scale": {"domain": [-0.094, 2.242], "nice": false, "zero": false},
                            "axis": {"values": [0, 0.5, 1, 1.5], "format": ".1f", "title": "MD–PD", "titleFontSize": 13, "titleAngle": 270, "titleAlign": "left", "titleBaseline": "alphabetic", "titleX": -37, "titleY": 332}}, "text": {"field": "tag"}}},
        {"data": {"name": "pts"}, "transform": [{"filter": "datum.sp === 'E. loxophleba'"}],
         "mark": {"type": "circle", "size": 38, "opacity": 1},
         "encoding": {"x": {"field": "vpd", "type": "quantitative", "scale": {"domain": [0.255, 4.819], "nice": false, "zero": false}, "axis": null},
                      "y": {"field": "psi", "type": "quantitative", "scale": {"domain": [-0.094, 2.242], "nice": false, "zero": false},
                            "axis": {"values": [0, 0.5, 1, 1.5], "format": ".1f", "title": "MD–PD", "titleFontSize": 13, "titleAngle": 270, "titleAlign": "left", "titleBaseline": "alphabetic", "titleX": -37, "titleY": 332}},
                      "color": {"field": "cov", "type": "nominal", "scale": {"domain": ["0.3", "0.5", "0.7"], "range": ["#F8766D", "#00BA38", "#619CFF"]},
                                "legend": {"title": "Cover Thickness (m)", "orient": "none", "legendX": 663, "legendY": 401, "padding": 0,
                                           "titleFontSize": 23, "titleFontWeight": "normal", "titleColor": "#000000", "titlePadding": 7, "titleLimit": 400,
                                           "labelFontSize": 17.5, "labelColor": "#000000", "labelOffset": 5, "rowPadding": 5, "labelLimit": 300,
                                           "symbolType": "M-1,0L1,0M-0.28,0A0.28,0.28,0,1,1,0.28,0A0.28,0.28,0,1,1,-0.28,0Z",
                                           "symbolSize": 441, "symbolStrokeWidth": 1.6,
                                           "labelExpr": "datum.label === '0.3' ? '0.3 m\u00a0 (ab)' : datum.label === '0.5' ? '0.5 m\u00a0 (a)' : '0.7 m\u00a0 (b)'",
                                           "encode": {"symbols": {"update": {"stroke": {"scale": "color", "field": "value"}, "fill": {"scale": "color", "field": "value"}, "opacity": {"value": 1}}}}}}}},
        {"data": {"name": "bands"}, "transform": [{"filter": "datum.sp === 'E. loxophleba'"}],
         "mark": {"type": "area", "fill": "#999999", "opacity": 0.3, "interpolate": "monotone"},
         "encoding": {"x": {"field": "vpd", "type": "quantitative", "scale": {"domain": [0.255, 4.819], "nice": false, "zero": false}, "axis": null},
                      "y": {"field": "lo", "type": "quantitative", "scale": {"domain": [-0.094, 2.242], "nice": false, "zero": false},
                            "axis": {"values": [0, 0.5, 1, 1.5], "format": ".1f", "title": "MD–PD", "titleFontSize": 13, "titleAngle": 270, "titleAlign": "left", "titleBaseline": "alphabetic", "titleX": -37, "titleY": 332}}, "y2": {"field": "hi"}, "detail": {"field": "cov"}}},
        {"data": {"name": "fits"}, "transform": [{"filter": "datum.sp === 'E. loxophleba'"}],
         "mark": {"type": "line", "strokeWidth": 2},
         "encoding": {"x": {"field": "vpd", "type": "quantitative", "scale": {"domain": [0.255, 4.819], "nice": false, "zero": false}, "axis": null},
                      "y": {"field": "psi", "type": "quantitative", "scale": {"domain": [-0.094, 2.242], "nice": false, "zero": false},
                            "axis": {"values": [0, 0.5, 1, 1.5], "format": ".1f", "title": "MD–PD", "titleFontSize": 13, "titleAngle": 270, "titleAlign": "left", "titleBaseline": "alphabetic", "titleX": -37, "titleY": 332}},
                      "color": {"field": "cov", "type": "nominal", "scale": {"domain": ["0.3", "0.5", "0.7"], "range": ["#F8766D", "#00BA38", "#619CFF"]}, "legend": null}}},
        {"data": {"name": "strips"}, "transform": [{"filter": "datum.sp === 'E. loxophleba'"}],
         "mark": {"type": "rect", "fill": "transparent", "stroke": "#4d4d4d", "strokeWidth": 1.4},
         "encoding": {"x": {"datum": 0.255, "type": "quantitative", "scale": {"domain": [0.255, 4.819], "nice": false, "zero": false}, "axis": null}, "x2": {"datum": 4.819},
                      "y": {"datum": -0.094, "type": "quantitative", "scale": {"domain": [-0.094, 2.242], "nice": false, "zero": false},
                            "axis": {"values": [0, 0.5, 1, 1.5], "format": ".1f", "title": "MD–PD", "titleFontSize": 13, "titleAngle": 270, "titleAlign": "left", "titleBaseline": "alphabetic", "titleX": -37, "titleY": 332}}, "y2": {"datum": 1.968}}}
      ]
    },
    {
      "width": 298.5, "height": 292,
      "layer": [
        {"data": {"name": "strips"}, "transform": [{"filter": "datum.sp === 'M. cordata'"}],
         "mark": {"type": "rect", "fill": "#d9d9d9"},
         "encoding": {"x": {"datum": 0.255, "type": "quantitative", "scale": {"domain": [0.255, 4.819], "nice": false, "zero": false}, "axis": null}, "x2": {"datum": 4.819},
                      "y": {"datum": 1.968, "type": "quantitative", "scale": {"domain": [-0.094, 2.242], "nice": false, "zero": false}, "axis": null}, "y2": {"datum": 2.242}}},
        {"data": {"name": "strips"}, "transform": [{"filter": "datum.sp === 'M. cordata'"}],
         "mark": {"type": "text", "fontStyle": "italic", "fontSize": 19.5, "color": "#262626", "baseline": "alphabetic", "align": "center"},
         "encoding": {"x": {"datum": 2.537, "type": "quantitative", "scale": {"domain": [0.255, 4.819], "nice": false, "zero": false}, "axis": null},
                      "y": {"datum": 2.026, "type": "quantitative", "scale": {"domain": [-0.094, 2.242], "nice": false, "zero": false}, "axis": null}, "text": {"field": "sp"}}},
        {"data": {"name": "strips"}, "transform": [{"filter": "datum.sp === 'M. cordata'"}],
         "mark": {"type": "text", "fontSize": 24, "color": "#000000", "baseline": "alphabetic", "align": "center"},
         "encoding": {"x": {"datum": 4.53, "type": "quantitative", "scale": {"domain": [0.255, 4.819], "nice": false, "zero": false}, "axis": null},
                      "y": {"datum": 2.038, "type": "quantitative", "scale": {"domain": [-0.094, 2.242], "nice": false, "zero": false}, "axis": null}, "text": {"field": "tag"}}},
        {"data": {"name": "pts"}, "transform": [{"filter": "datum.sp === 'M. cordata'"}],
         "mark": {"type": "circle", "size": 38, "opacity": 1},
         "encoding": {"x": {"field": "vpd", "type": "quantitative", "scale": {"domain": [0.255, 4.819], "nice": false, "zero": false}, "axis": null},
                      "y": {"field": "psi", "type": "quantitative", "scale": {"domain": [-0.094, 2.242], "nice": false, "zero": false}, "axis": null},
                      "color": {"field": "cov", "type": "nominal", "scale": {"domain": ["0.3", "0.5", "0.7"], "range": ["#F8766D", "#00BA38", "#619CFF"]}, "legend": null}}},
        {"data": {"name": "bands"}, "transform": [{"filter": "datum.sp === 'M. cordata'"}],
         "mark": {"type": "area", "fill": "#999999", "opacity": 0.3, "interpolate": "monotone"},
         "encoding": {"x": {"field": "vpd", "type": "quantitative", "scale": {"domain": [0.255, 4.819], "nice": false, "zero": false}, "axis": null},
                      "y": {"field": "lo", "type": "quantitative", "scale": {"domain": [-0.094, 2.242], "nice": false, "zero": false}, "axis": null}, "y2": {"field": "hi"}, "detail": {"field": "cov"}}},
        {"data": {"name": "fits"}, "transform": [{"filter": "datum.sp === 'M. cordata'"}],
         "mark": {"type": "line", "strokeWidth": 2},
         "encoding": {"x": {"field": "vpd", "type": "quantitative", "scale": {"domain": [0.255, 4.819], "nice": false, "zero": false}, "axis": null},
                      "y": {"field": "psi", "type": "quantitative", "scale": {"domain": [-0.094, 2.242], "nice": false, "zero": false}, "axis": null},
                      "color": {"field": "cov", "type": "nominal", "scale": {"domain": ["0.3", "0.5", "0.7"], "range": ["#F8766D", "#00BA38", "#619CFF"]}, "legend": null}}},
        {"data": {"name": "strips"}, "transform": [{"filter": "datum.sp === 'M. cordata'"}],
         "mark": {"type": "rect", "fill": "transparent", "stroke": "#4d4d4d", "strokeWidth": 1.4},
         "encoding": {"x": {"datum": 0.255, "type": "quantitative", "scale": {"domain": [0.255, 4.819], "nice": false, "zero": false}, "axis": null}, "x2": {"datum": 4.819},
                      "y": {"datum": -0.094, "type": "quantitative", "scale": {"domain": [-0.094, 2.242], "nice": false, "zero": false}, "axis": null}, "y2": {"datum": 1.968}}}
      ]
    },
    {
      "width": 288.5, "height": 292,
      "layer": [
        {"data": {"name": "strips"}, "transform": [{"filter": "datum.sp === 'A. acuminata'"}],
         "mark": {"type": "rect", "fill": "#d9d9d9"},
         "encoding": {"x": {"datum": 0.255, "type": "quantitative", "scale": {"domain": [0.255, 4.666], "nice": false, "zero": false}, "axis": null}, "x2": {"datum": 4.666},
                      "y": {"datum": 1.968, "type": "quantitative", "scale": {"domain": [-0.094, 2.242], "nice": false, "zero": false}, "axis": null}, "y2": {"datum": 2.242}}},
        {"data": {"name": "strips"}, "transform": [{"filter": "datum.sp === 'A. acuminata'"}],
         "mark": {"type": "text", "fontStyle": "italic", "fontSize": 19.5, "color": "#262626", "baseline": "alphabetic", "align": "center"},
         "encoding": {"x": {"datum": 2.52, "type": "quantitative", "scale": {"domain": [0.255, 4.666], "nice": false, "zero": false}, "axis": null},
                      "y": {"datum": 2.026, "type": "quantitative", "scale": {"domain": [-0.094, 2.242], "nice": false, "zero": false}, "axis": null}, "text": {"field": "sp"}}},
        {"data": {"name": "strips"}, "transform": [{"filter": "datum.sp === 'A. acuminata'"}],
         "mark": {"type": "text", "fontSize": 24, "color": "#000000", "baseline": "alphabetic", "align": "center"},
         "encoding": {"x": {"datum": 4.51, "type": "quantitative", "scale": {"domain": [0.255, 4.666], "nice": false, "zero": false}, "axis": null},
                      "y": {"datum": 2.038, "type": "quantitative", "scale": {"domain": [-0.094, 2.242], "nice": false, "zero": false}, "axis": null}, "text": {"field": "tag"}}},
        {"data": {"name": "pts"}, "transform": [{"filter": "datum.sp === 'A. acuminata'"}],
         "mark": {"type": "circle", "size": 38, "opacity": 1},
         "encoding": {"x": {"field": "vpd", "type": "quantitative", "scale": {"domain": [0.255, 4.666], "nice": false, "zero": false}, "axis": null},
                      "y": {"field": "psi", "type": "quantitative", "scale": {"domain": [-0.094, 2.242], "nice": false, "zero": false}, "axis": null},
                      "color": {"field": "cov", "type": "nominal", "scale": {"domain": ["0.3", "0.5", "0.7"], "range": ["#F8766D", "#00BA38", "#619CFF"]}, "legend": null}}},
        {"data": {"name": "bands"}, "transform": [{"filter": "datum.sp === 'A. acuminata'"}],
         "mark": {"type": "area", "fill": "#999999", "opacity": 0.3, "interpolate": "monotone"},
         "encoding": {"x": {"field": "vpd", "type": "quantitative", "scale": {"domain": [0.255, 4.666], "nice": false, "zero": false}, "axis": null},
                      "y": {"field": "lo", "type": "quantitative", "scale": {"domain": [-0.094, 2.242], "nice": false, "zero": false}, "axis": null}, "y2": {"field": "hi"}, "detail": {"field": "cov"}}},
        {"data": {"name": "fits"}, "transform": [{"filter": "datum.sp === 'A. acuminata'"}],
         "mark": {"type": "line", "strokeWidth": 2},
         "encoding": {"x": {"field": "vpd", "type": "quantitative", "scale": {"domain": [0.255, 4.666], "nice": false, "zero": false}, "axis": null},
                      "y": {"field": "psi", "type": "quantitative", "scale": {"domain": [-0.094, 2.242], "nice": false, "zero": false}, "axis": null},
                      "color": {"field": "cov", "type": "nominal", "scale": {"domain": ["0.3", "0.5", "0.7"], "range": ["#F8766D", "#00BA38", "#619CFF"]}, "legend": null}}},
        {"data": {"name": "strips"}, "transform": [{"filter": "datum.sp === 'A. acuminata'"}],
         "mark": {"type": "rect", "fill": "transparent", "stroke": "#4d4d4d", "strokeWidth": 1.4},
         "encoding": {"x": {"datum": 0.255, "type": "quantitative", "scale": {"domain": [0.255, 4.666], "nice": false, "zero": false}, "axis": null}, "x2": {"datum": 4.666},
                      "y": {"datum": -0.094, "type": "quantitative", "scale": {"domain": [-0.094, 2.242], "nice": false, "zero": false}, "axis": null}, "y2": {"datum": 1.968}}}
      ]
    },
    {
      "width": 298.5, "height": 292,
      "layer": [
        {"data": {"name": "strips"}, "transform": [{"filter": "datum.sp === 'E. leptopoda'"}],
         "mark": {"type": "rect", "fill": "#d9d9d9"},
         "encoding": {"x": {"datum": 0.255, "type": "quantitative", "scale": {"domain": [0.255, 4.819], "nice": false, "zero": false}, "axis": {"values": [1, 2, 3, 4], "format": "d", "title": null}}, "x2": {"datum": 4.819},
                      "y": {"datum": 1.968, "type": "quantitative", "scale": {"domain": [-0.094, 2.242], "nice": false, "zero": false},
                            "axis": {"values": [0, 0.5, 1, 1.5], "format": ".1f", "title": "sqrt ψ\u00a0\u00a0\u00a0\u00a0\u00a0\u00a0\u00a0\u00a0\u00a0(-MPa)", "titleAngle": 270, "titleAlign": "left", "titleBaseline": "alphabetic", "titleX": -41, "titleY": 87}}, "y2": {"datum": 2.242}}},
        {"data": {"name": "strips"}, "transform": [{"filter": "datum.sp === 'E. leptopoda'"}],
         "mark": {"type": "text", "fontStyle": "italic", "fontSize": 19.5, "color": "#262626", "baseline": "alphabetic", "align": "center"},
         "encoding": {"x": {"datum": 2.537, "type": "quantitative", "scale": {"domain": [0.255, 4.819], "nice": false, "zero": false}, "axis": {"values": [1, 2, 3, 4], "format": "d", "title": null}},
                      "y": {"datum": 2.026, "type": "quantitative", "scale": {"domain": [-0.094, 2.242], "nice": false, "zero": false},
                            "axis": {"values": [0, 0.5, 1, 1.5], "format": ".1f", "title": "sqrt ψ\u00a0\u00a0\u00a0\u00a0\u00a0\u00a0\u00a0\u00a0\u00a0(-MPa)", "titleAngle": 270, "titleAlign": "left", "titleBaseline": "alphabetic", "titleX": -41, "titleY": 87}}, "text": {"field": "sp"}}},
        {"data": {"name": "strips"}, "transform": [{"filter": "datum.sp === 'E. leptopoda'"}],
         "mark": {"type": "text", "fontSize": 24, "color": "#000000", "baseline": "alphabetic", "align": "center"},
         "encoding": {"x": {"datum": 4.53, "type": "quantitative", "scale": {"domain": [0.255, 4.819], "nice": false, "zero": false}, "axis": {"values": [1, 2, 3, 4], "format": "d", "title": null}},
                      "y": {"datum": 2.038, "type": "quantitative", "scale": {"domain": [-0.094, 2.242], "nice": false, "zero": false},
                            "axis": {"values": [0, 0.5, 1, 1.5], "format": ".1f", "title": "sqrt ψ\u00a0\u00a0\u00a0\u00a0\u00a0\u00a0\u00a0\u00a0\u00a0(-MPa)", "titleAngle": 270, "titleAlign": "left", "titleBaseline": "alphabetic", "titleX": -41, "titleY": 87}}, "text": {"field": "tag"}}},
        {"data": {"name": "pts"}, "transform": [{"filter": "datum.sp === 'E. leptopoda'"}],
         "mark": {"type": "circle", "size": 38, "opacity": 1},
         "encoding": {"x": {"field": "vpd", "type": "quantitative", "scale": {"domain": [0.255, 4.819], "nice": false, "zero": false}, "axis": {"values": [1, 2, 3, 4], "format": "d", "title": null}},
                      "y": {"field": "psi", "type": "quantitative", "scale": {"domain": [-0.094, 2.242], "nice": false, "zero": false},
                            "axis": {"values": [0, 0.5, 1, 1.5], "format": ".1f", "title": "sqrt ψ\u00a0\u00a0\u00a0\u00a0\u00a0\u00a0\u00a0\u00a0\u00a0(-MPa)", "titleAngle": 270, "titleAlign": "left", "titleBaseline": "alphabetic", "titleX": -41, "titleY": 87}},
                      "color": {"field": "cov", "type": "nominal", "scale": {"domain": ["0.3", "0.5", "0.7"], "range": ["#F8766D", "#00BA38", "#619CFF"]}, "legend": null}}},
        {"data": {"name": "bands"}, "transform": [{"filter": "datum.sp === 'E. leptopoda'"}],
         "mark": {"type": "area", "fill": "#999999", "opacity": 0.3, "interpolate": "monotone"},
         "encoding": {"x": {"field": "vpd", "type": "quantitative", "scale": {"domain": [0.255, 4.819], "nice": false, "zero": false}, "axis": {"values": [1, 2, 3, 4], "format": "d", "title": null}},
                      "y": {"field": "lo", "type": "quantitative", "scale": {"domain": [-0.094, 2.242], "nice": false, "zero": false},
                            "axis": {"values": [0, 0.5, 1, 1.5], "format": ".1f", "title": "sqrt ψ\u00a0\u00a0\u00a0\u00a0\u00a0\u00a0\u00a0\u00a0\u00a0(-MPa)", "titleAngle": 270, "titleAlign": "left", "titleBaseline": "alphabetic", "titleX": -41, "titleY": 87}}, "y2": {"field": "hi"}, "detail": {"field": "cov"}}},
        {"data": {"name": "fits"}, "transform": [{"filter": "datum.sp === 'E. leptopoda'"}],
         "mark": {"type": "line", "strokeWidth": 2},
         "encoding": {"x": {"field": "vpd", "type": "quantitative", "scale": {"domain": [0.255, 4.819], "nice": false, "zero": false}, "axis": {"values": [1, 2, 3, 4], "format": "d", "title": null}},
                      "y": {"field": "psi", "type": "quantitative", "scale": {"domain": [-0.094, 2.242], "nice": false, "zero": false},
                            "axis": {"values": [0, 0.5, 1, 1.5], "format": ".1f", "title": "sqrt ψ\u00a0\u00a0\u00a0\u00a0\u00a0\u00a0\u00a0\u00a0\u00a0(-MPa)", "titleAngle": 270, "titleAlign": "left", "titleBaseline": "alphabetic", "titleX": -41, "titleY": 87}},
                      "color": {"field": "cov", "type": "nominal", "scale": {"domain": ["0.3", "0.5", "0.7"], "range": ["#F8766D", "#00BA38", "#619CFF"]}, "legend": null}}},
        {"data": {"name": "strips"}, "transform": [{"filter": "datum.sp === 'E. leptopoda'"}],
         "mark": {"type": "rect", "fill": "transparent", "stroke": "#4d4d4d", "strokeWidth": 1.4},
         "encoding": {"x": {"datum": 0.255, "type": "quantitative", "scale": {"domain": [0.255, 4.819], "nice": false, "zero": false}, "axis": {"values": [1, 2, 3, 4], "format": "d", "title": null}}, "x2": {"datum": 4.819},
                      "y": {"datum": -0.094, "type": "quantitative", "scale": {"domain": [-0.094, 2.242], "nice": false, "zero": false},
                            "axis": {"values": [0, 0.5, 1, 1.5], "format": ".1f", "title": "sqrt ψ\u00a0\u00a0\u00a0\u00a0\u00a0\u00a0\u00a0\u00a0\u00a0(-MPa)", "titleAngle": 270, "titleAlign": "left", "titleBaseline": "alphabetic", "titleX": -41, "titleY": 87}}, "y2": {"datum": 1.968}}}
      ]
    },
    {
      "width": 298.5, "height": 292,
      "layer": [
        {"data": {"name": "strips"}, "transform": [{"filter": "datum.sp === 'M. nematophylla'"}],
         "mark": {"type": "rect", "fill": "#d9d9d9"},
         "encoding": {"x": {"datum": 0.255, "type": "quantitative", "scale": {"domain": [0.255, 4.819], "nice": false, "zero": false}, "axis": {"values": [1, 2, 3, 4], "format": "d", "title": "VPD (kPa)", "titlePadding": 6}}, "x2": {"datum": 4.819},
                      "y": {"datum": 1.968, "type": "quantitative", "scale": {"domain": [-0.094, 2.242], "nice": false, "zero": false}, "axis": null}, "y2": {"datum": 2.242}}},
        {"data": {"name": "strips"}, "transform": [{"filter": "datum.sp === 'M. nematophylla'"}],
         "mark": {"type": "text", "fontStyle": "italic", "fontSize": 19.5, "color": "#262626", "baseline": "alphabetic", "align": "center"},
         "encoding": {"x": {"datum": 2.537, "type": "quantitative", "scale": {"domain": [0.255, 4.819], "nice": false, "zero": false}, "axis": {"values": [1, 2, 3, 4], "format": "d", "title": "VPD (kPa)", "titlePadding": 6}},
                      "y": {"datum": 2.026, "type": "quantitative", "scale": {"domain": [-0.094, 2.242], "nice": false, "zero": false}, "axis": null}, "text": {"field": "sp"}}},
        {"data": {"name": "strips"}, "transform": [{"filter": "datum.sp === 'M. nematophylla'"}],
         "mark": {"type": "text", "fontSize": 24, "color": "#000000", "baseline": "alphabetic", "align": "center"},
         "encoding": {"x": {"datum": 4.53, "type": "quantitative", "scale": {"domain": [0.255, 4.819], "nice": false, "zero": false}, "axis": {"values": [1, 2, 3, 4], "format": "d", "title": "VPD (kPa)", "titlePadding": 6}},
                      "y": {"datum": 2.038, "type": "quantitative", "scale": {"domain": [-0.094, 2.242], "nice": false, "zero": false}, "axis": null}, "text": {"field": "tag"}}},
        {"data": {"name": "pts"}, "transform": [{"filter": "datum.sp === 'M. nematophylla'"}],
         "mark": {"type": "circle", "size": 38, "opacity": 1},
         "encoding": {"x": {"field": "vpd", "type": "quantitative", "scale": {"domain": [0.255, 4.819], "nice": false, "zero": false}, "axis": {"values": [1, 2, 3, 4], "format": "d", "title": "VPD (kPa)", "titlePadding": 6}},
                      "y": {"field": "psi", "type": "quantitative", "scale": {"domain": [-0.094, 2.242], "nice": false, "zero": false}, "axis": null},
                      "color": {"field": "cov", "type": "nominal", "scale": {"domain": ["0.3", "0.5", "0.7"], "range": ["#F8766D", "#00BA38", "#619CFF"]}, "legend": null}}},
        {"data": {"name": "bands"}, "transform": [{"filter": "datum.sp === 'M. nematophylla'"}],
         "mark": {"type": "area", "fill": "#999999", "opacity": 0.3, "interpolate": "monotone"},
         "encoding": {"x": {"field": "vpd", "type": "quantitative", "scale": {"domain": [0.255, 4.819], "nice": false, "zero": false}, "axis": {"values": [1, 2, 3, 4], "format": "d", "title": "VPD (kPa)", "titlePadding": 6}},
                      "y": {"field": "lo", "type": "quantitative", "scale": {"domain": [-0.094, 2.242], "nice": false, "zero": false}, "axis": null}, "y2": {"field": "hi"}, "detail": {"field": "cov"}}},
        {"data": {"name": "fits"}, "transform": [{"filter": "datum.sp === 'M. nematophylla'"}],
         "mark": {"type": "line", "strokeWidth": 2},
         "encoding": {"x": {"field": "vpd", "type": "quantitative", "scale": {"domain": [0.255, 4.819], "nice": false, "zero": false}, "axis": {"values": [1, 2, 3, 4], "format": "d", "title": "VPD (kPa)", "titlePadding": 6}},
                      "y": {"field": "psi", "type": "quantitative", "scale": {"domain": [-0.094, 2.242], "nice": false, "zero": false}, "axis": null},
                      "color": {"field": "cov", "type": "nominal", "scale": {"domain": ["0.3", "0.5", "0.7"], "range": ["#F8766D", "#00BA38", "#619CFF"]}, "legend": null}}},
        {"data": {"name": "strips"}, "transform": [{"filter": "datum.sp === 'M. nematophylla'"}],
         "mark": {"type": "rect", "fill": "transparent", "stroke": "#4d4d4d", "strokeWidth": 1.4},
         "encoding": {"x": {"datum": 0.255, "type": "quantitative", "scale": {"domain": [0.255, 4.819], "nice": false, "zero": false}, "axis": {"values": [1, 2, 3, 4], "format": "d", "title": "VPD (kPa)", "titlePadding": 6}}, "x2": {"datum": 4.819},
                      "y": {"datum": -0.094, "type": "quantitative", "scale": {"domain": [-0.094, 2.242], "nice": false, "zero": false}, "axis": null}, "y2": {"datum": 1.968}}}
      ]
    }
  ],
  "config": {
    "view": {"stroke": null},
    "font": "Liberation Sans",
    "axis": {"grid": false, "domain": false, "tickColor": "#333333", "tickSize": 4, "tickWidth": 1,
             "labelFont": "Liberation Sans", "labelFontSize": 15, "labelColor": "#4d4d4d", "labelPadding": 2,
             "titleFont": "Liberation Sans", "titleFontSize": 20, "titleFontWeight": "normal", "titleColor": "#000000"},
    "legend": {"labelFont": "Liberation Sans", "titleFont": "Liberation Sans"}
  }
}
